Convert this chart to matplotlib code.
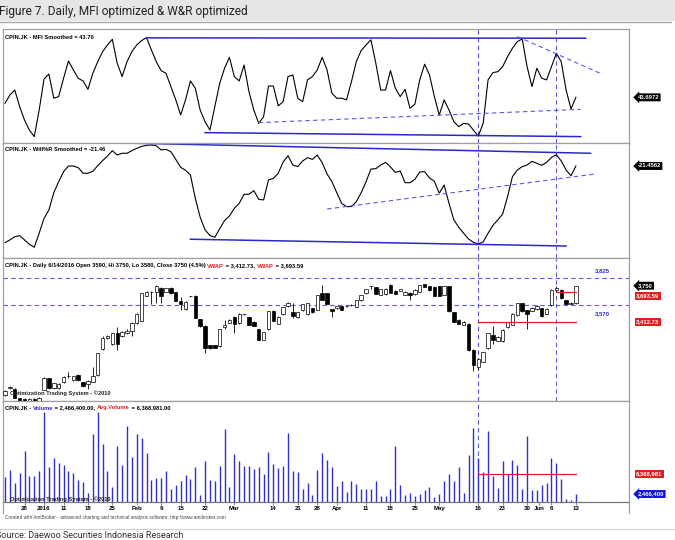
import numpy as np
import matplotlib
matplotlib.use("Agg")
import matplotlib.pyplot as plt
from matplotlib.lines import Line2D
from matplotlib.patches import Rectangle
from matplotlib.text import Annotation

W, H = 675, 540
plt.rcParams["font.family"] = ["Liberation Sans", "DejaVu Sans"]

# ---- data ---------------------------------------------------------------
tick_idx = [4, 8, 12, 17, 22, 27, 32, 36, 41, 47, 55, 60, 64, 68, 74, 79, 84, 89,
            97, 102, 107, 109.5, 112, 117]
tick_labels = ["28", "2016", "11", "18", "25", "Feb", "9", "15", "22", "Mar", "14",
               "21", "28", "Apr", "11", "18", "25", "May", "16", "23", "30", "Jun",
               "6", "13"]

mfi = [40.4, 45.0, 47.7, 38.6, 31.2, 25.7, 22.1, 36.7, 53.8, 56.5,
       43.2, 44.1, 54.2, 63.7, 58.8, 54.2, 52.7, 48.1, 56.9, 63.3,
       68.8, 72.5, 75.6, 62.4, 55.1, 63.3, 68.8, 72.5, 74.9, 76.5,
       69.8, 63.3, 58.4, 56.9, 49.6, 42.3, 34.0, 42.3, 52.7, 48.7,
       36.7, 30.3, 25.7, 38.6, 51.4, 59.7, 65.7, 55.1, 52.7, 61.5,
       46.8, 36.7, 29.4, 33.1, 49.9, 49.9, 39.0, 41.3, 55.1, 56.0,
       43.2, 41.3, 53.3, 55.1, 58.8, 65.7, 58.8, 45.9, 43.2, 43.2,
       42.3, 52.3, 63.3, 69.4, 72.5, 75.3, 62.4, 47.7, 47.7, 58.4,
       48.7, 44.1, 48.1, 37.7, 39.9, 53.3, 61.9, 56.0, 44.1, 34.0,
       42.3, 36.7, 30.3, 27.6, 29.4, 29.0, 25.7, 22.4, 29.4, 53.3,
       57.3, 57.8, 60.6, 66.1, 70.7, 74.3, 75.8, 60.6, 49.6, 59.7,
       54.2, 53.3, 60.6, 67.9, 63.3, 47.7, 37.3, 43.6972]

wr = [-88.2, -85.8, -83.0, -82.1, -85.8, -89.6, -92.2, -80.0, -67.0, -59.7,
      -44.7, -35.1, -26.4, -21.5, -21.5, -22.9, -27.8, -27.8, -26.1, -21.2,
      -16.8, -12.8, -8.1, -11.9, -10.4, -10.4, -8.1, -6.1, -4.4, -3.5,
      -3.2, -3.8, -7.5, -7.0, -9.0, -15.7, -22.6, -25.2, -29.3, -49.6,
      -66.1, -77.0, -82.0, -83.5, -76.0, -69.0, -65.0, -58.3, -54.0, -46.1,
      -46.1, -42.9, -50.5, -51.0, -33.6, -32.2, -27.8, -18.0, -12.5, -20.6,
      -22.0, -17.1, -14.2, -15.7, -11.9, -18.6, -28.4, -35.1, -44.7, -54.0,
      -56.8, -56.8, -52.5, -44.7, -35.1, -24.1, -23.8, -20.6, -18.3, -22.3,
      -27.0, -25.8, -36.0, -36.0, -33.1, -26.7, -26.4, -31.9, -34.8, -45.2,
      -38.0, -54.0, -68.4, -74.8, -80.0, -85.0, -87.9, -89.3, -87.6, -80.0,
      -73.1, -68.4, -63.2, -48.1, -30.7, -25.0, -22.0, -20.6, -17.4, -19.1,
      -20.9, -18.3, -14.0, -11.6, -17.1, -25.0, -29.9, -21.4562]

opens = [2730, 2795, 2790, 2700, 2690, 2670, 2690, 2665, 2780, 2885,
         2795, 2795, 2855, 2905, 2865, 2915, 2850, 2830, 2855, 2915,
         3155, 3260, 3205, 3305, 3280, 3305, 3330, 3400, 3425, 3655,
         3690, 3690, 3730, 3695, 3730, 3690, 3605, 3530, 3650, 3655,
         3435, 3375, 3195, 3195, 3185, 3360, 3405, 3460, 3400, 3485,
         3455, 3415, 3345, 3245, 3345, 3515, 3395, 3485, 3560, 3500,
         3455, 3520, 3485, 3540, 3525, 3680, 3680, 3530, 3540, 3560,
         3560, 3570, 3555, 3615, 3680, 3745, 3735, 3665, 3670, 3755,
         3705, 3705, 3665, 3685, 3670, 3695, 3765, 3745, 3740, 3745,
         3665, 3745, 3500, 3430, 3385, 3395, 3150, 2995, 3040, 3165,
         3290, 3235, 3230, 3360, 3385, 3475, 3585, 3520, 3515, 3530,
         3540, 3490, 3570, 3710, 3710, 3615, 3580, 3590]
highs = [2780, 2815, 2795, 2705, 2705, 2700, 2705, 2710, 2895, 2890,
         2845, 2840, 2905, 2945, 2910, 2925, 2855, 2870, 2995, 3120,
         3285, 3290, 3310, 3360, 3325, 3350, 3415, 3495, 3680, 3700,
         3705, 3755, 3740, 3730, 3740, 3695, 3640, 3605, 3655, 3660,
         3440, 3380, 3200, 3200, 3345, 3430, 3435, 3465, 3495, 3490,
         3460, 3420, 3350, 3320, 3510, 3520, 3465, 3550, 3600, 3585,
         3500, 3580, 3590, 3545, 3665, 3755, 3685, 3535, 3565, 3565,
         3565, 3575, 3620, 3665, 3720, 3750, 3740, 3720, 3725, 3770,
         3710, 3720, 3700, 3690, 3715, 3760, 3770, 3750, 3745, 3750,
         3750, 3750, 3505, 3435, 3420, 3400, 3155, 3075, 3135, 3305,
         3370, 3280, 3345, 3415, 3495, 3590, 3590, 3525, 3550, 3570,
         3545, 3540, 3715, 3745, 3715, 3620, 3595, 3750]
lows = [2720, 2790, 2700, 2650, 2650, 2640, 2650, 2650, 2775, 2790,
        2785, 2790, 2840, 2885, 2860, 2860, 2800, 2790, 2850, 2910,
        3150, 3250, 3200, 3150, 3270, 3300, 3280, 3395, 3420, 3650,
        3575, 3585, 3585, 3690, 3675, 3605, 3525, 3525, 3640, 3445,
        3365, 3125, 3160, 3165, 3180, 3345, 3400, 3305, 3395, 3480,
        3380, 3370, 3240, 3240, 3340, 3420, 3390, 3480, 3555, 3445,
        3450, 3515, 3480, 3495, 3520, 3615, 3575, 3460, 3535, 3520,
        3555, 3565, 3550, 3610, 3675, 3720, 3670, 3660, 3665, 3685,
        3670, 3700, 3660, 3615, 3665, 3690, 3740, 3700, 3655, 3650,
        3660, 3505, 3410, 3390, 3380, 3140, 2950, 2965, 3035, 3160,
        3210, 3230, 3225, 3355, 3380, 3470, 3505, 3350, 3510, 3525,
        3460, 3485, 3565, 3690, 3630, 3575, 3575, 3580]
closes = [2770, 2800, 2705, 2660, 2670, 2695, 2660, 2700, 2890, 2795,
          2840, 2835, 2895, 2910, 2905, 2865, 2810, 2860, 2905, 3120,
          3260, 3280, 3305, 3205, 3320, 3325, 3400, 3490, 3680, 3695,
          3695, 3750, 3655, 3725, 3680, 3610, 3575, 3600, 3650, 3450,
          3370, 3165, 3165, 3170, 3345, 3385, 3430, 3395, 3485, 3485,
          3385, 3375, 3245, 3315, 3510, 3425, 3460, 3550, 3590, 3465,
          3500, 3575, 3585, 3500, 3665, 3620, 3580, 3510, 3560, 3525,
          3560, 3570, 3615, 3660, 3715, 3745, 3675, 3715, 3720, 3685,
          3675, 3715, 3695, 3665, 3710, 3755, 3740, 3710, 3655, 3655,
          3745, 3510, 3415, 3395, 3415, 3145, 3010, 3070, 3135, 3305,
          3245, 3275, 3340, 3410, 3490, 3585, 3510, 3490, 3545, 3565,
          3465, 3535, 3710, 3725, 3635, 3580, 3590, 3750]

# volume in millions of shares
volume = [5.73, 7.09, 4.56, 6.64, 10.86, 5.92, 5.99, 6.96, 18.53, 7.68,
          9.56, 8.46, 8.13, 6.96, 6.51, 5.14, 4.75, 2.74, 14.11, 18.53,
          12.23, 6.96, 3.91, 11.84, 8.13, 15.74, 9.76, 14.11, 13.33, 10.54,
          5.21, 5.53, 5.66, 7.03, 3.39, 4.17, 5.01, 6.12, 5.47, 7.68,
          2.22, 8.85, 5.21, 5.01, 7.94, 15.15, 3.78, 10.21, 8.98, 7.94,
          7.94, 7.35, 7.74, 6.44, 10.67, 8.26, 7.48, 7.87, 14.31, 7.03,
          6.77, 3.45, 4.69, 2.22, 7.22, 10.47, 9.11, 7.81, 4.10, 5.08,
          2.93, 5.08, 4.36, 3.39, 3.39, 3.39, 5.01, 2.09, 2.02, 3.39,
          11.84, 4.23, 2.28, 2.74, 2.09, 2.41, 3.32, 3.84, 1.89, 2.48,
          5.01, 6.38, 4.95, 7.68, 2.74, 10.08, 15.28, 9.43, 6.77, 14.83,
          5.99, 3.71, 8.85, 6.31, 9.17, 8.20, 3.52, 13.79, 3.26, 3.19,
          4.17, 4.69, 9.56, 8.59, 5.40, 1.57, 1.31, 2.4664]

# hand-drawn study lines: (start bar, start value, end bar, end value)
mfi_solid = [(29, 76.4, 119, 76.2), (41, 24.3, 118, 22.1)]
mfi_dashed = [(52, 29.8, 118, 37.1), (105, 77.1, 122, 56.9)]
wr_solid = [(27, -1.7, 120, -10.4), (38, -85.2, 115, -91.1)]
wr_dashed = [(66, -58.9, 121, -28.4)]
marker_bars = [97, 113]
price_levels = [3825, 3570]
vwap_start = [97, 113]
vwap_value = [3412.73, 3693.59]
avg_volume = 6.368981

# ---- style --------------------------------------------------------------
BLUE = "#2a2ac8"
DASH_BLUE = "#5a5ae0"
RED = "#e02020"
FRAME = "#a0a0a0"
XLIM = (-0.35, 127.95)
AX_LEFT, AX_RIGHT = 3.3, 629.3
TITLE_SIZE = 4.15


def fig_box(top, bottom, left=AX_LEFT, right=AX_RIGHT):
    return [left / W, 1 - bottom / H, (right - left) / W, (bottom - top) / H]


def fxy(x, y):
    return x / W, 1 - y / H


def chain_text(x, y, pieces, size=TITLE_SIZE):
    """multi-colour title, piece after piece"""
    t = fig.text(*fxy(x, y), pieces[0][0], color=pieces[0][1], fontsize=size,
                 fontweight="bold", va="center", ha="left")
    for s, c in pieces[1:]:
        t = fig.add_artist(Annotation(s, xy=(1, 0.5), xycoords=t, va="center",
                                      ha="left", color=c, fontsize=size,
                                      fontweight="bold"))


def value_tag(ax, y, text, fc, arrow=True, dy=0.0, xoff=6.0):
    style = "larrow,pad=0.25" if arrow else "square,pad=0.25"
    ax.annotate(text, xy=(1, y), xycoords=("axes fraction", "data"),
                xytext=(xoff, dy), textcoords="offset points", ha="left",
                va="center", fontsize=4.2, fontweight="bold", color="white",
                bbox=dict(boxstyle=style, fc=fc, ec="none"), annotation_clip=False)


def seg_lines(ax, segs, **kw):
    for x0, y0, x1, y1 in segs:
        ax.plot([x0, x1], [y0, y1], **kw)


fig = plt.figure(figsize=(W / 100, H / 100), dpi=100)

# header band and footer rule
fig.patches.append(Rectangle((0, 1 - 21 / H), 1, 21 / H, transform=fig.transFigure,
                             fc="#e6e6e6", ec="none", zorder=0))
fig.lines.append(Line2D([0, 671 / W], [1 - 21.8 / H] * 2, transform=fig.transFigure,
                        color="#a8a8a8", lw=1.0))
fig.lines.append(Line2D([0, 1], [1 - 528.5 / H] * 2, transform=fig.transFigure,
                        color="#d0d0d0", lw=0.8))
fig.text(*fxy(-1, 11), "Figure 7. Daily, MFI optimized & W&R optimized",
         family=["Roboto", "DejaVu Sans"], fontsize=8.6,
         color="#222222", va="center", ha="left")
fig.text(*fxy(-4.5, 535.5), "Source: Daewoo Securities Indonesia Research",
         family=["Roboto", "DejaVu Sans"], fontsize=6.5,
         color="#333333", va="center", ha="left")

ax_mfi = fig.add_axes(fig_box(29.3, 143))
ax_wr = fig.add_axes(fig_box(143, 258.3))
ax_px = fig.add_axes(fig_box(258.3, 400.5))
ax_vol = fig.add_axes(fig_box(400.5, 502.3))
axes = [ax_mfi, ax_wr, ax_px, ax_vol]

idx = np.arange(len(closes))

for ax in axes:
    ax.set_xlim(*XLIM)
    ax.set_xticks([])
    ax.set_yticks([])
    for sp in ax.spines.values():
        sp.set_color(FRAME)
        sp.set_linewidth(0.9)

ax_mfi.set_ylim(18.6, 81.1)
ax_wr.set_ylim(-101.8, -1.45)
ax_px.set_ylim(2678, 4006)
ax_vol.set_ylim(0.85, 20.7)

# MFI panel
ax_mfi.plot(idx, mfi, color="black", lw=0.8)
seg_lines(ax_mfi, mfi_solid, color=BLUE, lw=1.1)
seg_lines(ax_mfi, mfi_dashed, color=DASH_BLUE, lw=0.8, dashes=(4, 3))

# Williams %R panel
ax_wr.plot(idx, wr, color="black", lw=0.8)
seg_lines(ax_wr, wr_solid, color=BLUE, lw=1.1)
seg_lines(ax_wr, wr_dashed, color=DASH_BLUE, lw=0.8, dashes=(4, 3))

# price panel: candles
o = np.array(opens)
c = np.array(closes)
up = c >= o
ax_px.vlines(idx, lows, highs, color="black", lw=0.6, zorder=2)
ax_px.bar(idx, np.abs(c - o), bottom=np.minimum(o, c), width=0.7,
          color=np.where(up, "white", "black"), edgecolor="black", lw=0.5, zorder=3)
for lvl in price_levels:
    ax_px.axhline(lvl, color=DASH_BLUE, lw=0.8, dashes=(4, 3), zorder=1)
for start, val in zip(vwap_start, vwap_value):
    ax_px.plot([start, idx[-1]], [val, val], color=RED, lw=0.9, zorder=4)
lvl_x = (602 - AX_LEFT) / (AX_RIGHT - AX_LEFT)
for lvl, dy in zip(price_levels, (5.3, -6.0)):
    ax_px.annotate(f"{lvl:,}", xy=(lvl_x, lvl), xycoords=("axes fraction", "data"),
                   xytext=(0, dy), textcoords="offset points", fontsize=4.3,
                   fontweight="bold", color=BLUE, ha="center", va="center")

# volume panel
ax_vol.vlines(idx, ax_vol.get_ylim()[0], volume, color="#3030d0", lw=1.0)
ax_vol.plot([vwap_start[0], idx[-1]], [avg_volume] * 2, color=RED, lw=0.9)
ax_vol.set_xticks(tick_idx)
ax_vol.set_xticklabels(tick_labels, fontsize=4.4, fontweight="bold")
ax_vol.tick_params(axis="x", length=2, width=0.5, pad=1.0, color="#555555")
ax_vol.spines["bottom"].set_color("#777777")

# vertical marker lines
for ax in [ax_mfi, ax_wr, ax_px]:
    for b in marker_bars:
        ax.axvline(b, color=DASH_BLUE, lw=0.8, dashes=(4, 3), zorder=1)
ax_vol.axvline(marker_bars[0], color=DASH_BLUE, lw=0.8, dashes=(4, 3), zorder=0)

# frame below the volume axis
for x in (AX_LEFT, AX_RIGHT):
    fig.lines.append(Line2D([x / W] * 2, [1 - 502.3 / H, 1 - 513 / H],
                            transform=fig.transFigure, color=FRAME, lw=0.9))

# panel titles
chain_text(5, 37.5, [(f"CPIN.JK - MFI Smoothed = {mfi[-1]:.2f}", "black")])
chain_text(5, 149.5, [(f"CPIN.JK - Will%R Smoothed = {wr[-1]:.2f}", "black")])
chain_text(5, 266, [
    (f"CPIN.JK - Daily 6/14/2016 Open {opens[-1]}, Hi {highs[-1]}, Lo {lows[-1]}, "
     f"Close {closes[-1]} ({(closes[-1] / closes[-2] - 1) * 100:.1f}%) ", "black"),
    ("VWAP", RED), (f" = {vwap_value[0]:,.2f}, ", "black"),
    ("VWAP", RED), (f" = {vwap_value[1]:,.2f}", "black")])
chain_text(5, 408, [
    ("CPIN.JK - ", "black"), ("Volume", BLUE),
    (f" = {volume[-1] * 1e6:,.2f}, ", "black"), ("Avg.Volume", RED),
    (f" = {avg_volume * 1e6:,.2f}", "black")])
for y in (393.5, 499):
    fig.text(*fxy(10, y), "Optimization Trading System - \u00a92010", fontsize=4.1,
             fontweight="bold", color="#222222", va="center")
fig.text(*fxy(5, 517.5), "Created with AmiBroker - advanced charting and technical "
         "analysis software. http://www.amibroker.com", fontsize=3.4, color="#444444",
         va="center")

# value tags at the right edge
value_tag(ax_mfi, mfi[-1], f"{mfi[-1]:.4f}", "black")
value_tag(ax_wr, wr[-1], f"{wr[-1]:.4f}", "black")
value_tag(ax_px, closes[-1], f"{closes[-1]:,}", "black")
value_tag(ax_px, vwap_value[1], f"{vwap_value[1]:,.2f}", RED, arrow=False, dy=-3, xoff=5)
value_tag(ax_px, vwap_value[0], f"{vwap_value[0]:,.2f}", RED, arrow=False, xoff=5)
value_tag(ax_vol, avg_volume, f"{avg_volume * 1e6:,.0f}", RED, arrow=False, xoff=5)
value_tag(ax_vol, volume[-1], f"{volume[-1] * 1e6:,.0f}", "#1010e0")

fig.savefig("out.png", dpi=100)
